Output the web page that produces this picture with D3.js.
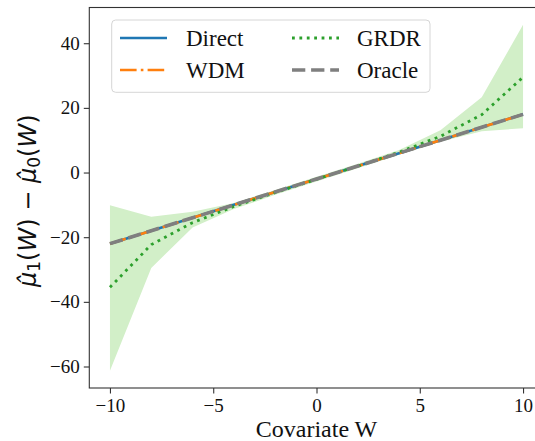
<!DOCTYPE html>
<html>
<head>
<meta charset="utf-8">
<script src="https://cdn.jsdelivr.net/npm/d3@7"></script>
<style>
html,body{margin:0;padding:0;background:#fff;}
svg{display:block;}
</style>
</head>
<body>
<svg id="chart" width="535" height="441"></svg>
<script>
// ---- data ----
const W = [-10, -8, -6, -4, -2, 0, 2, 4, 6, 8, 10];
const direct = [-22, -18, -14, -10, -6, -2, 2, 6, 10, 14, 18];
const wdm = [-22, -18, -14, -10, -6, -2, 2, 6, 10, 14, 18];
const oracle = [-22, -18, -14, -10, -6, -2, 2, 6, 10, 14, 18];
const grdr = [-35.5, -22.3, -15.5, -10.5, -6.2, -2.1, 2.0, 6.3, 11.2, 17.9, 29.5];
const grdrLower = [-61.3, -29.5, -17.0, -11.3, -6.9, -2.8, 1.3, 5.5, 9.5, 12.8, 13.7];
const grdrUpper = [-10.1, -13.7, -12.1, -9.4, -5.4, -1.3, 2.7, 7.0, 13.1, 23.3, 45.7];
const xTicks = [-10, -5, 0, 5, 10];
const yTicks = [-60, -40, -20, 0, 20, 40];
const seriesNames = ["Direct", "WDM", "GRDR", "Oracle"];

// ---- layout ----
const svg = d3.select("#chart");
const mLeft = 89.3, mRight = 543.7, mTop = 7.5, mBottom = 388;
const SERIF = '"Liberation Serif", serif';

const xMin = d3.min(W), xMax = d3.max(W);
const xPad = (xMax - xMin) * 0.05;
const x = d3.scaleLinear().domain([xMin - xPad, xMax + xPad]).range([mLeft, mRight]);

const yLo = d3.min(grdrLower.concat(direct, grdr));
const yHi = d3.max(grdrUpper.concat(direct, grdr));
const yPad = (yHi - yLo) * 0.05;
const y = d3.scaleLinear().domain([yLo - yPad, yHi + yPad]).range([mBottom, mTop]);

function serifText(sel, size) {
  sel.each(function () {
    this.style.fontFamily = SERIF;
    this.style.fontSize = size + "px";
  });
  return sel;
}

// ---- band ----
const bandData = W.map((w, i) => ({w, lo: grdrLower[i], hi: grdrUpper[i]}));
svg.append("path")
  .datum(bandData)
  .attr("d", d3.area().x(d => x(d.w)).y0(d => y(d.lo)).y1(d => y(d.hi)))
  .attr("fill", "#d2efc8").attr("stroke", "none");

// ---- lines ----
const line = d3.line().x(d => x(d.w)).y(d => y(d.v));
const styles = {
  Direct: {color: "#1f77b4", width: 2.6, dash: null},
  WDM: {color: "#ff7f0e", width: 2.6, dash: "16.6,4.2,2.6,4.2"},
  GRDR: {color: "#2ca02c", width: 2.8, dash: "2.8,4.6"},
  Oracle: {color: "#7f7f7f", width: 3.6, dash: "13.3,5.8"}
};
const seriesData = {Direct: direct, WDM: wdm, GRDR: grdr, Oracle: oracle};

seriesNames.forEach(name => {
  const st = styles[name];
  const pts = W.map((w, i) => ({w, v: seriesData[name][i]}));
  const p = svg.append("path")
    .datum(pts)
    .attr("d", line)
    .attr("fill", "none")
    .attr("stroke", st.color)
    .attr("stroke-width", st.width)
    .attr("stroke-linecap", "butt")
    .attr("stroke-linejoin", "round");
  if (st.dash) p.attr("stroke-dasharray", st.dash);
});

// ---- axes ----
const fmt = d => d < 0 ? "\u2212" + Math.abs(d) : String(d);
const xAxis = d3.axisBottom(x).tickValues(xTicks).tickSize(5.5).tickPadding(5.5).tickFormat(fmt);
const gx = svg.append("g").attr("transform", `translate(0,${mBottom})`).call(xAxis);
gx.select(".domain").remove();
gx.selectAll(".tick line").attr("stroke", "#333").attr("stroke-width", 1.1);
serifText(gx.selectAll(".tick text"), 19).attr("fill", "#111");

const yAxis = d3.axisLeft(y).tickValues(yTicks).tickSize(5.5).tickPadding(4).tickFormat(fmt);
const gy = svg.append("g").attr("transform", `translate(${mLeft},0)`).call(yAxis);
gy.select(".domain").remove();
gy.selectAll(".tick line").attr("stroke", "#333").attr("stroke-width", 1.1);
serifText(gy.selectAll(".tick text"), 19).attr("fill", "#111");

// spines
svg.append("rect")
  .attr("x", mLeft).attr("y", mTop)
  .attr("width", mRight - mLeft).attr("height", mBottom - mTop)
  .attr("fill", "none").attr("stroke", "#333").attr("stroke-width", 1.1);

// axis labels
serifText(svg.append("text"), 24)
  .attr("x", (x(xMin) + x(xMax)) / 2).attr("y", 437)
  .attr("text-anchor", "middle")
  .attr("fill", "#111")
  .text("Covariate W");

const yl = svg.append("text")
  .attr("transform", `translate(36,${(mTop + mBottom) / 2 + 3}) rotate(-90)`)
  .attr("text-anchor", "middle")
  .attr("fill", "#111");
yl.node().style.fontFamily = '"DejaVu Sans", sans-serif';
yl.node().style.fontSize = "24px";
yl.append("tspan").style("font-style", "italic").text("\u03bc\u0302");
yl.append("tspan").style("font-size", "17px").attr("dy", 4).text("1");
yl.append("tspan").attr("dy", -4).text("(");
yl.append("tspan").style("font-style", "italic").text("W");
yl.append("tspan").text(") \u2212 ");
yl.append("tspan").style("font-style", "italic").text("\u03bc\u0302");
yl.append("tspan").style("font-size", "17px").attr("dy", 4).text("0");
yl.append("tspan").attr("dy", -4).text("(");
yl.append("tspan").style("font-style", "italic").text("W");
yl.append("tspan").text(")");

// ---- legend ----
const lg = svg.append("g");
lg.append("rect")
  .attr("x", 111.7).attr("y", 20).attr("width", 318.3).attr("height", 72.3)
  .attr("rx", 4).attr("ry", 4)
  .attr("fill", "#fff").attr("fill-opacity", 0.8)
  .attr("stroke", "#d6d6d6").attr("stroke-width", 1);

const legendPos = [
  {name: "Direct", hx: 120, ty: 38},
  {name: "WDM", hx: 120, ty: 70},
  {name: "GRDR", hx: 292, ty: 38},
  {name: "Oracle", hx: 292, ty: 70}
];
legendPos.forEach(lp => {
  const st = styles[lp.name];
  const l = lg.append("line")
    .attr("x1", lp.hx).attr("x2", lp.hx + 47)
    .attr("y1", lp.ty).attr("y2", lp.ty)
    .attr("stroke", st.color).attr("stroke-width", st.width)
    .attr("stroke-linecap", "butt");
  if (st.dash) l.attr("stroke-dasharray", st.dash);
  serifText(lg.append("text"), 23)
    .attr("x", lp.hx + (lp.hx > 200 ? 65 : 66)).attr("y", lp.ty + 8)
    .attr("fill", "#111")
    .text(lp.name);
});
</script>
</body>
</html>
